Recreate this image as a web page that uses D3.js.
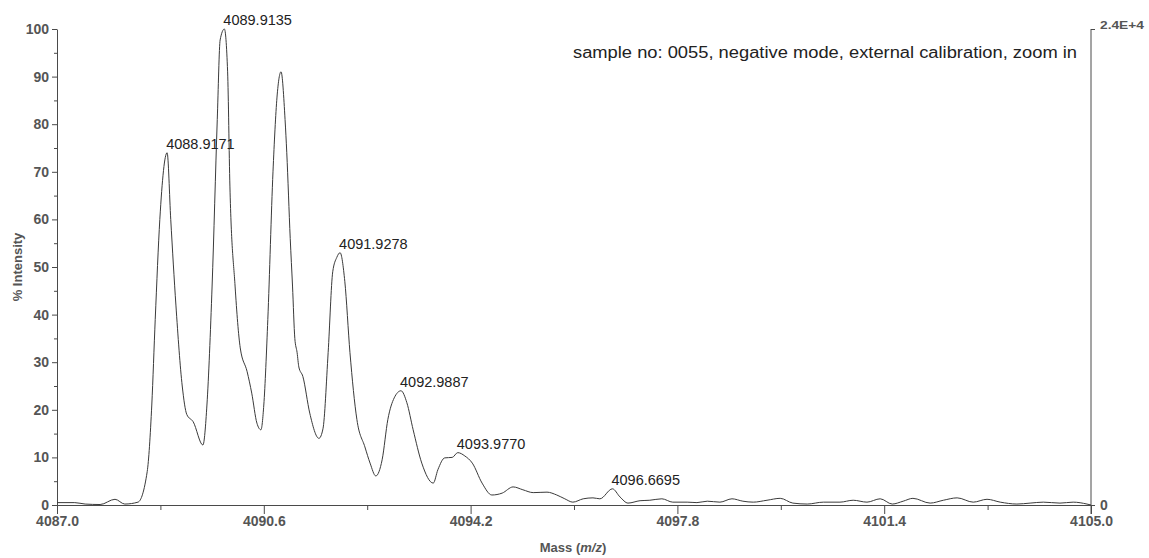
<!DOCTYPE html>
<html>
<head>
<meta charset="utf-8">
<script src="https://cdn.jsdelivr.net/npm/d3@7"></script>
<style>
  html, body { margin: 0; padding: 0; background: #fff; }
  svg { display: block; }
  .tick text { font-family: "Liberation Sans", Arial, sans-serif; }
</style>
</head>
<body>
<svg id="chart" width="1149" height="558"></svg>
<script>
// Spectrum trace: m/z and % intensity
const mass = [
  4087.00, 4087.31, 4087.49, 4087.75, 4088.01, 4088.18, 4088.41, 4088.57, 4088.65, 4088.71,
  4088.79, 4088.9171, 4088.98, 4089.07, 4089.18, 4089.26, 4089.37, 4089.54, 4089.61, 4089.70,
  4089.79, 4089.84, 4089.9135, 4089.97, 4090.01, 4090.10, 4090.19, 4090.31, 4090.39, 4090.48,
  4090.55, 4090.60, 4090.67, 4090.76, 4090.83, 4090.90, 4090.97, 4091.00, 4091.06, 4091.10,
  4091.14, 4091.18, 4091.21, 4091.28, 4091.40, 4091.56, 4091.63, 4091.72, 4091.80, 4091.87,
  4091.9278, 4092.01, 4092.10, 4092.22, 4092.36, 4092.45, 4092.55, 4092.66, 4092.76, 4092.87,
  4092.9887, 4093.09, 4093.20, 4093.35, 4093.55, 4093.63, 4093.75, 4093.88, 4093.9770, 4094.10,
  4094.23, 4094.40, 4094.57, 4094.75, 4094.94, 4095.11, 4095.29, 4095.53, 4095.70, 4095.84,
  4095.98, 4096.16, 4096.33, 4096.45, 4096.6695, 4096.80, 4096.94, 4097.15, 4097.32, 4097.53,
  4097.72, 4097.97, 4098.14, 4098.32, 4098.54, 4098.75, 4098.94, 4099.12, 4099.36, 4099.59,
  4099.81, 4100.06, 4100.34, 4100.63, 4100.86, 4101.10, 4101.33, 4101.54, 4101.73, 4101.90,
  4102.20, 4102.43, 4102.67, 4102.95, 4103.19, 4103.42, 4103.71, 4103.94, 4104.17, 4104.46,
  4104.69, 4104.93, 4105.00
];
const intensity = [
  0.5, 0.5, 0.2, 0.1, 1.2, 0.2, 0.6, 7, 21, 39,
  60, 74, 60, 42, 25, 19, 17.5, 12.6, 21, 46,
  81, 97.7, 100, 91, 67, 46, 33, 28, 23.5, 17.2,
  15.8, 21, 39, 70, 85.7, 91, 81, 74, 56, 46,
  35, 32, 29, 27, 19.3, 14, 16, 32, 49, 52,
  53, 47, 32, 18, 12.2, 8.8, 6.1, 9.5, 18, 22.5,
  24, 21.5, 15.8, 8.8, 4.6, 7.4, 9.9, 10, 11, 10.3,
  8.8, 4.6, 2.1, 2.5, 3.8, 3.2, 2.6, 2.7, 2.1, 1.3,
  0.6, 1.3, 1.5, 1.3, 3.4, 1.7, 0.4, 0.9, 1.0, 1.3,
  0.6, 0.6, 0.5, 0.8, 0.6, 1.3, 0.8, 0.6, 1.0, 1.4,
  0.4, 0.2, 0.6, 0.6, 1.0, 0.6, 1.3, 0.2, 0.8, 1.4,
  0.4, 1.0, 1.5, 0.6, 1.2, 0.6, 0.2, 0.4, 0.6, 0.4,
  0.6, 0.2, 0
];

// Annotated peaks (centroid m/z)
const peakLabels = ["4088.9171", "4089.9135", "4091.9278", "4092.9887", "4093.9770", "4096.6695"];

// Axis ticks
const xMajorTicks = [4087.0, 4090.6, 4094.2, 4097.8, 4101.4, 4105.0];
const xMinorTicks = [4088.8, 4092.4, 4096.0, 4099.6, 4103.2];
const yMajorTicks = [0, 10, 20, 30, 40, 50, 60, 70, 80, 90, 100];
const yMinorTicks = [5, 15, 25, 35, 45, 55, 65, 75, 85, 95];
const countsTicks = [0, 24000];
const countsLabels = ["0", "2.4E+4"];

const title = "sample no: 0055, negative mode, external calibration, zoom in";

const svg = d3.select("#chart");
const plotLeft = 57, plotRight = 1091, plotTop = 29, plotBottom = 505;

const x = d3.scaleLinear().domain([4087, 4105]).range([plotLeft, plotRight]);
const y = d3.scaleLinear().domain([0, 100]).range([plotBottom, plotTop]);
const yCounts = d3.scaleLinear().domain([0, 24000]).range([plotBottom, plotTop]);

const axisColor = "#4a4a4a";
const labelFont = "'Liberation Sans', Arial, sans-serif";

// Left axis: minor then major
const gLeftMinor = svg.append("g").attr("transform", `translate(${plotLeft},0)`)
  .call(d3.axisLeft(y).tickValues(yMinorTicks).tickSize(3).tickFormat("").tickSizeOuter(0));
gLeftMinor.select(".domain").remove();
const gLeft = svg.append("g").attr("transform", `translate(${plotLeft},0)`)
  .call(d3.axisLeft(y).tickValues(yMajorTicks).tickSize(5).tickPadding(3).tickSizeOuter(0)
    .tickFormat(d3.format("d")));
gLeft.selectAll("text").attr("font-size", 14).attr("font-weight", "bold").attr("fill", "#555");

// Bottom axis
const gBotMinor = svg.append("g").attr("transform", `translate(0,${plotBottom})`)
  .call(d3.axisBottom(x).tickValues(xMinorTicks).tickSize(5).tickFormat("").tickSizeOuter(0));
gBotMinor.select(".domain").remove();
const gBot = svg.append("g").attr("transform", `translate(0,${plotBottom})`)
  .call(d3.axisBottom(x).tickValues(xMajorTicks).tickSize(9).tickPadding(2).tickSizeOuter(0)
    .tickFormat(d3.format(".1f")));
gBot.selectAll("text").attr("font-size", 14).attr("font-weight", "bold").attr("fill", "#555");

// Right axis (absolute counts)
const gRight = svg.append("g").attr("transform", `translate(${plotRight},0)`)
  .call(d3.axisRight(yCounts).tickValues(countsTicks).tickSize(4).tickPadding(5).tickSizeOuter(0)
    .tickFormat((d, i) => countsLabels[i]));
gRight.select(".domain").attr("d", `M0,${plotTop}V${plotBottom + 9}`);
gRight.selectAll(".tick text")
  .attr("font-weight", "bold").attr("fill", "#555")
  .attr("font-size", (d, i) => i === 0 ? 14 : 10)
  .attr("dy", (d, i) => i === 0 ? "0.32em" : "-0.05em")
  .attr("textLength", (d, i) => i === 0 ? null : 44)
  .attr("lengthAdjust", "spacingAndGlyphs");

[gLeft, gLeftMinor, gBot, gBotMinor, gRight].forEach(g => {
  g.selectAll("line").attr("stroke", axisColor);
  g.selectAll(".domain").attr("stroke", axisColor);
});

// Spectrum trace
const line = d3.line()
  .x((d, i) => x(mass[i]))
  .y(d => y(d))
  .curve(d3.curveMonotoneX);

svg.append("path")
  .datum(intensity)
  .attr("d", line)
  .attr("fill", "none")
  .attr("stroke", "#3a3a3a")
  .attr("stroke-width", 1);

// Peak annotations
peakLabels.forEach(lbl => {
  const m = +lbl;
  const i = mass.indexOf(m);
  svg.append("text")
    .attr("x", x(m) - 1)
    .attr("y", y(intensity[i]) - 4)
    .attr("font-family", labelFont)
    .attr("font-size", 14.5)
    .attr("fill", "#222")
    .text(lbl);
});

// Sample description
svg.append("text")
  .attr("x", 1077).attr("y", 58)
  .attr("text-anchor", "end")
  .attr("font-family", labelFont)
  .attr("font-size", 16)
  .attr("textLength", 504)
  .attr("lengthAdjust", "spacingAndGlyphs")
  .attr("fill", "#222")
  .text(title);

// Axis titles
const xTitle = svg.append("text")
  .attr("x", 573).attr("y", 552)
  .attr("text-anchor", "middle")
  .attr("font-family", labelFont)
  .attr("font-size", 13)
  .attr("font-weight", "bold")
  .attr("fill", "#555");
xTitle.append("tspan").text("Mass (");
xTitle.append("tspan").attr("font-style", "italic").text("m/z");
xTitle.append("tspan").text(")");

svg.append("text")
  .attr("transform", "translate(22,267) rotate(-90)")
  .attr("text-anchor", "middle")
  .attr("font-family", labelFont)
  .attr("font-size", 13)
  .attr("font-weight", "bold")
  .attr("fill", "#555")
  .text("% Intensity");
</script>
</body>
</html>
